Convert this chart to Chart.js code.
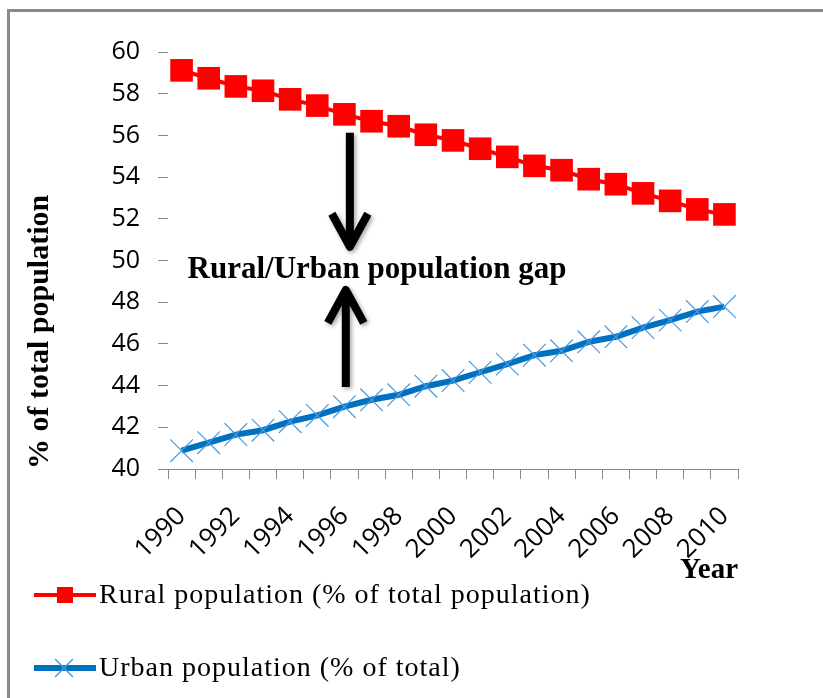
<!DOCTYPE html>
<html>
<head>
<meta charset="utf-8">
<script src="https://cdn.jsdelivr.net/npm/chart.js@4.4.1/dist/chart.umd.min.js"></script>
<style>
 body { margin: 0; background: #fff; overflow: hidden; }
 #frame { position: absolute; left: 7px; top: 9px; width: 900px; height: 800px; border-left: 3px solid #8a8a8a; border-top: 3px solid #8a8a8a; }
 #chart { position: absolute; left: 0; top: 0; }
</style>
</head>
<body>
<div id="frame"></div>
<canvas id="chart" width="823" height="698"></canvas>
<script>
// years on the x axis
const years = ['1990','1991','1992','1993','1994','1995','1996','1997','1998','1999','2000',
 '2001','2002','2003','2004','2005','2006','2007','2008','2009','2010'];

// rural population (% of total population)
const ruralPct = [59.12, 58.74, 58.35, 58.14, 57.73, 57.43, 57.01, 56.68, 56.44, 56.03, 55.76,
 55.36, 54.97, 54.54, 54.33, 53.90, 53.66, 53.22, 52.86, 52.45, 52.21];

// urban population (% of total)
const urbanPct = [40.88, 41.26, 41.65, 41.86, 42.27, 42.57, 42.99, 43.32, 43.56, 43.97, 44.24,
 44.64, 45.03, 45.46, 45.67, 46.10, 46.34, 46.78, 47.14, 47.55, 47.79];

const ruralLabel = 'Rural population (% of total population)';
const urbanLabel = 'Urban population (% of total)';

// y axis range
const yMin = 40, yMax = 60, yStep = 2;

// gap note: text and two arrows (x in category index, y in %)
const gapText = 'Rural/Urban population gap';
const gapTextAt = {x: 0.22, y: 49.16};
const arrowDown = {x: 6.2, from: 56.13, to: 50.66};
const arrowUp = {x: 6.05, from: 43.93, to: 48.59};

function drawArrow(ctx, x, y0, y1) {
 const dir = y1 > y0 ? 1 : -1;
 ctx.beginPath();
 ctx.moveTo(x, y0);
 ctx.lineTo(x, y1);
 ctx.moveTo(x - 18, y1 - dir * 33);
 ctx.lineTo(x, y1);
 ctx.lineTo(x + 18, y1 - dir * 33);
 ctx.stroke();
}

const gapNote = {
 id: 'gapNote',
 afterDatasetsDraw(chart) {
  const {ctx, scales: {x, y}} = chart;
  ctx.save();
  ctx.font = 'bold 31px "Liberation Serif"';
  ctx.fillStyle = '#000';
  ctx.textBaseline = 'alphabetic';
  ctx.fillText(gapText, x.getPixelForValue(gapTextAt.x), y.getPixelForValue(gapTextAt.y));
  ctx.strokeStyle = '#000';
  ctx.lineWidth = 8;
  ctx.lineJoin = 'round';
  ctx.lineCap = 'butt';
  ctx.shadowColor = 'rgba(0,0,0,0.35)';
  ctx.shadowBlur = 4;
  ctx.shadowOffsetX = 2;
  ctx.shadowOffsetY = 2;
  drawArrow(ctx, x.getPixelForValue(arrowDown.x), y.getPixelForValue(arrowDown.from), y.getPixelForValue(arrowDown.to));
  drawArrow(ctx, x.getPixelForValue(arrowUp.x), y.getPixelForValue(arrowUp.from), y.getPixelForValue(arrowUp.to));
  ctx.restore();
 }
};

// legend drawn as line + marker + text, stacked under the chart
const sideLegend = {
 id: 'sideLegend',
 afterDraw(chart) {
  const ctx = chart.ctx;
  const rows = [595, 668];
  ctx.save();
  chart.data.datasets.forEach((ds, i) => {
   const yy = rows[i];
   ctx.strokeStyle = ds.borderColor;
   ctx.lineWidth = ds.borderWidth;
   ctx.beginPath();
   ctx.moveTo(34, yy);
   ctx.lineTo(96, yy);
   ctx.stroke();
   if (ds.pointStyle === 'rect') {
    ctx.fillStyle = ds.pointBackgroundColor;
    ctx.fillRect(57, yy - 8, 16, 16);
   } else {
    ctx.strokeStyle = ds.pointBorderColor;
    ctx.lineWidth = 1.5;
    ctx.beginPath();
    ctx.moveTo(55, yy - 9); ctx.lineTo(73, yy + 9);
    ctx.moveTo(73, yy - 9); ctx.lineTo(55, yy + 9);
    ctx.stroke();
   }
   ctx.fillStyle = '#000';
   ctx.font = '28px "Liberation Serif"';
   ctx.letterSpacing = '1px';
   ctx.textBaseline = 'middle';
   ctx.fillText(ds.label, 99, yy + 1);
  });
  ctx.restore();
 }
};

new Chart(document.getElementById('chart'), {
 type: 'line',
 data: {
  labels: years,
  datasets: [
   {
    label: ruralLabel,
    data: ruralPct,
    borderColor: '#ff0000',
    borderWidth: 4,
    pointStyle: 'rect',
    pointRadius: 16,
    pointBorderWidth: 0,
    pointBackgroundColor: '#ff0000',
    pointBorderColor: '#ff0000',
    fill: false,
    tension: 0,
    clip: false
   },
   {
    label: urbanLabel,
    data: urbanPct,
    borderColor: '#0070c0',
    borderWidth: 6,
    pointStyle: 'crossRot',
    pointRadius: 16,
    pointBorderWidth: 1.2,
    pointBorderColor: '#4a9ae0',
    pointBackgroundColor: '#4a9ae0',
    fill: false,
    tension: 0,
    clip: false
   }
  ]
 },
 options: {
  responsive: false,
  animation: false,
  layout: {padding: {left: 10, right: 85, top: 52, bottom: 110}},
  plugins: {
   legend: {display: false},
   tooltip: {enabled: false}
  },
  scales: {
   x: {
    offset: true,
    grid: {offset: true, drawOnChartArea: false, drawTicks: true, tickLength: 10, color: '#888'},
    border: {display: true, color: '#888', width: 1},
    ticks: {
     autoSkip: false,
     minRotation: 45,
     maxRotation: 45,
     padding: 22,
     color: '#000',
     font: {family: '"Open Sans"', size: 26},
     callback: function (v, i) { return i % 2 === 0 ? this.getLabelForValue(v) : ''; }
    },
    title: {
     display: true,
     text: 'Year',
     align: 'end',
     color: '#000',
     padding: {top: 0, bottom: 0},
     font: {family: '"Liberation Serif"', size: 29, weight: 'bold'}
    },
    afterFit: (s) => { s.height = 119; }
   },
   y: {
    min: yMin,
    max: yMax,
    grid: {drawOnChartArea: false, drawTicks: true, tickLength: 10, color: '#888'},
    border: {display: false},
    ticks: {
     stepSize: yStep,
     padding: 18,
     color: '#000',
     font: {family: '"Open Sans"', size: 25}
    },
    title: {
     display: true,
     text: '% of total population',
     align: 'start',
     color: '#000',
     padding: {top: 12, bottom: 0},
     font: {family: '"Liberation Serif"', size: 30, weight: 'bold'}
    },
    afterFit: (s) => { s.width = 158; }
   }
  }
 },
 plugins: [gapNote, sideLegend]
});
</script>
</body>
</html>
